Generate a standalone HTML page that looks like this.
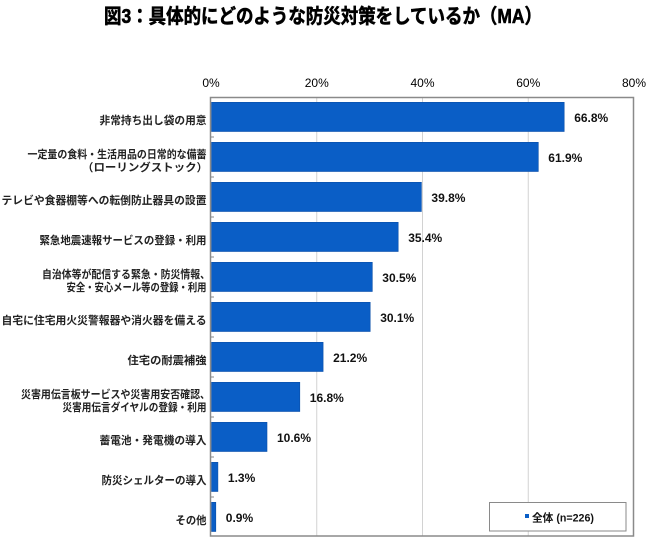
<!DOCTYPE html>
<html lang="ja">
<head>
<meta charset="utf-8">
<style>
  html,body{margin:0;padding:0;background:#fff;}
  svg{display:block;}
  .t{font-family:"Liberation Sans","Noto Sans CJK JP",sans-serif;}
</style>
</head>
<body>
<svg width="650" height="539" viewBox="0 0 650 539" xmlns="http://www.w3.org/2000/svg">
  <rect x="0" y="0" width="650" height="539" fill="#fff"/>

  <!-- Title -->
  <text class="t" x="104" y="23" font-size="20" font-weight="bold" fill="#000" stroke="#000" stroke-width="0.6" textLength="438" lengthAdjust="spacingAndGlyphs">図3：具体的にどのような防災対策をしているか（MA）</text>

  <!-- Axis labels -->
  <g class="t" font-size="12" fill="#000" text-anchor="middle">
    <text x="211" y="87">0%</text>
    <text x="316.75" y="87">20%</text>
    <text x="422.5" y="87">40%</text>
    <text x="528.25" y="87">60%</text>
    <text x="634" y="87">80%</text>
  </g>

  <!-- Gridlines -->
  <g stroke="#d2d2d2" stroke-width="1">
    <line x1="316.75" y1="98" x2="316.75" y2="535.5"/>
    <line x1="422.5" y1="98" x2="422.5" y2="535.5"/>
    <line x1="528.25" y1="98" x2="528.25" y2="535.5"/>
  </g>

  <!-- Bars -->
  <g fill="#0a5ec6" stroke="#0a4fa8" stroke-width="0.6">
    <rect x="211.5" y="102.3" width="352.7" height="29.2"/>
    <rect x="211.5" y="142.3" width="326.8" height="29.2"/>
    <rect x="211.5" y="182.3" width="209.9" height="29.2"/>
    <rect x="211.5" y="222.3" width="186.7" height="29.2"/>
    <rect x="211.5" y="262.3" width="160.8" height="29.2"/>
    <rect x="211.5" y="302.3" width="158.7" height="29.2"/>
    <rect x="211.5" y="342.3" width="111.6" height="29.2"/>
    <rect x="211.5" y="382.3" width="88.3" height="29.2"/>
    <rect x="211.5" y="422.3" width="55.5" height="29.2"/>
    <rect x="211.5" y="462.3" width="6.4" height="29.2"/>
    <rect x="211.5" y="502.3" width="4.3" height="29.2"/>
  </g>

  <!-- Left axis tick marks -->
  <g stroke="#888" stroke-width="1">
    <line x1="211" y1="137" x2="214" y2="137"/>
    <line x1="211" y1="177" x2="214" y2="177"/>
    <line x1="211" y1="217" x2="214" y2="217"/>
    <line x1="211" y1="257" x2="214" y2="257"/>
    <line x1="211" y1="297" x2="214" y2="297"/>
    <line x1="211" y1="337" x2="214" y2="337"/>
    <line x1="211" y1="377" x2="214" y2="377"/>
    <line x1="211" y1="417" x2="214" y2="417"/>
    <line x1="211" y1="457" x2="214" y2="457"/>
    <line x1="211" y1="497" x2="214" y2="497"/>
  </g>

  <!-- Plot border -->
  <rect x="210.5" y="97.5" width="423" height="438.5" fill="none" stroke="#8a8a8a" stroke-width="1.5"/>

  <!-- Value labels -->
  <g class="t" font-size="12" font-weight="bold" fill="#111">
    <text x="574.2" y="122">66.8%</text>
    <text x="548.3" y="162">61.9%</text>
    <text x="431.4" y="202">39.8%</text>
    <text x="408.2" y="242">35.4%</text>
    <text x="382.3" y="282">30.5%</text>
    <text x="380.2" y="322">30.1%</text>
    <text x="333.1" y="362">21.2%</text>
    <text x="309.8" y="402">16.8%</text>
    <text x="277.0" y="442">10.6%</text>
    <text x="227.9" y="482">1.3%</text>
    <text x="225.8" y="522">0.9%</text>
  </g>

  <!-- Category labels -->
  <g class="t" font-size="11" font-weight="bold" fill="#222" text-anchor="end">
    <text x="206.5" y="124" textLength="107" lengthAdjust="spacingAndGlyphs">非常持ち出し袋の用意</text>
    <text x="206.5" y="158.2" textLength="179" lengthAdjust="spacingAndGlyphs">一定量の食料・生活用品の日常的な備蓄</text>
    <text x="208" y="171.2" textLength="126" lengthAdjust="spacingAndGlyphs">（ローリングストック）</text>
    <text x="206.5" y="204" textLength="205" lengthAdjust="spacingAndGlyphs">テレビや食器棚等への転倒防止器具の設置</text>
    <text x="206.5" y="244" textLength="167" lengthAdjust="spacingAndGlyphs">緊急地震速報サービスの登録・利用</text>
    <text x="210" y="278.2" textLength="168" lengthAdjust="spacingAndGlyphs">自治体等が配信する緊急・防災情報、</text>
    <text x="206.5" y="291.2" textLength="140" lengthAdjust="spacingAndGlyphs">安全・安心メール等の登録・利用</text>
    <text x="206.5" y="324" textLength="205" lengthAdjust="spacingAndGlyphs">自宅に住宅用火災警報器や消火器を備える</text>
    <text x="206.5" y="364" textLength="79" lengthAdjust="spacingAndGlyphs">住宅の耐震補強</text>
    <text x="210" y="398.2" textLength="189" lengthAdjust="spacingAndGlyphs">災害用伝言板サービスや災害用安否確認、</text>
    <text x="206.5" y="411.2" textLength="144" lengthAdjust="spacingAndGlyphs">災害用伝言ダイヤルの登録・利用</text>
    <text x="206.5" y="444" textLength="107" lengthAdjust="spacingAndGlyphs">蓄電池・発電機の導入</text>
    <text x="206.5" y="484" textLength="105" lengthAdjust="spacingAndGlyphs">防災シェルターの導入</text>
    <text x="206.5" y="524" textLength="31" lengthAdjust="spacingAndGlyphs">その他</text>
  </g>

  <!-- Legend -->
  <rect x="489.5" y="502.5" width="136.5" height="28.5" fill="#fff" stroke="#8a8a8a" stroke-width="1"/>
  <rect x="525" y="514" width="4" height="4" fill="#0a5ec6"/>
  <text class="t" x="532" y="521.5" font-size="11" font-weight="bold" fill="#111" textLength="62" lengthAdjust="spacingAndGlyphs">全体 (n=226)</text>
</svg>
</body>
</html>
